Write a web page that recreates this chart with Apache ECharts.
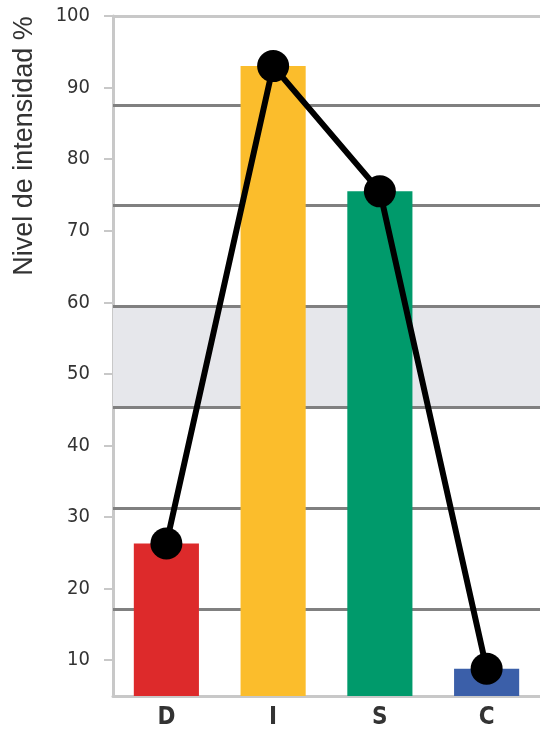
<!DOCTYPE html>
<html>
<head>
<meta charset="utf-8">
<script src="https://cdn.jsdelivr.net/npm/echarts@6/dist/echarts.min.js"></script>
<style>
  html, body { margin: 0; padding: 0; background: #fff; }
  #main { width: 540px; height: 732px; }
</style>
</head>
<body>
<div id="main"></div>
<script>
// datos DISC
var categories = ['D', 'I', 'S', 'C'];
var values = [26.3, 93.0, 75.5, 8.8];
var barColors = ['#dd2a2b', '#fbbd2c', '#009a6b', '#3b5fa9'];
var yTicks = [10, 20, 30, 40, 50, 60, 70, 80, 90, 100];
var refLines = [87.6, 73.5, 59.4, 45.3, 31.2, 17.1];
var bandRange = [45.3, 59.4];

var chart = echarts.init(document.getElementById('main'));

var option = {
  animation: false,
  grid: { left: 113, right: 0, top: 16, bottom: 36 },
  graphic: [
    {
      type: 'text',
      x: 25,
      y: 146,
      rotation: Math.PI / 2,
      style: {
        text: 'Nivel de intensidad %',
        fontSize: 27,
        fontFamily: '"Liberation Sans", Arial, sans-serif',
        fill: '#333',
        align: 'center',
        verticalAlign: 'middle'
      }
    }
  ],
  xAxis: {
    type: 'category',
    data: categories,
    axisLine: { lineStyle: { color: '#c8c8c8', width: 3 } },
    axisTick: { show: false },
    axisLabel: {
      fontSize: 24,
      fontWeight: 'bold',
      color: '#333',
      fontFamily: '"DejaVu Sans Condensed", "DejaVu Sans", sans-serif',
      margin: 10
    }
  },
  yAxis: {
    type: 'value',
    min: 5,
    max: 100,
    splitLine: { show: false },
    axisLine: { show: true, lineStyle: { color: '#c8c8c8', width: 3 } },
    axisTick: {
      show: true,
      length: 9,
      customValues: yTicks,
      lineStyle: { color: '#c8c8c8', width: 2 }
    },
    axisLabel: {
      customValues: yTicks,
      fontSize: 20,
      color: '#333',
      fontFamily: '"DejaVu Sans Condensed", "DejaVu Sans", sans-serif',
      margin: 23
    }
  },
  series: [
    {
      type: 'bar',
      barWidth: '61%',
      data: values.map(function (v, i) {
        return { value: v, itemStyle: { color: barColors[i] } };
      }),
      markArea: {
        silent: true,
        itemStyle: { color: '#e6e7eb' },
        data: [[{ yAxis: bandRange[0] }, { yAxis: bandRange[1] }]]
      },
      markLine: {
        silent: true,
        symbol: 'none',
        label: { show: false },
        z: 1,
        data: refLines.map(function (v) {
          return { yAxis: v, lineStyle: { color: '#808080', width: 3, type: 'solid' } };
        }).concat([
          { yAxis: 100, lineStyle: { color: '#c8c8c8', width: 3, type: 'solid' } }
        ])
      },
      z: 2
    },
    {
      type: 'line',
      data: values,
      symbol: 'circle',
      symbolSize: 32,
      lineStyle: { color: '#000', width: 6 },
      itemStyle: { color: '#000' },
      z: 5
    }
  ]
};

chart.setOption(option);
</script>
</body>
</html>
